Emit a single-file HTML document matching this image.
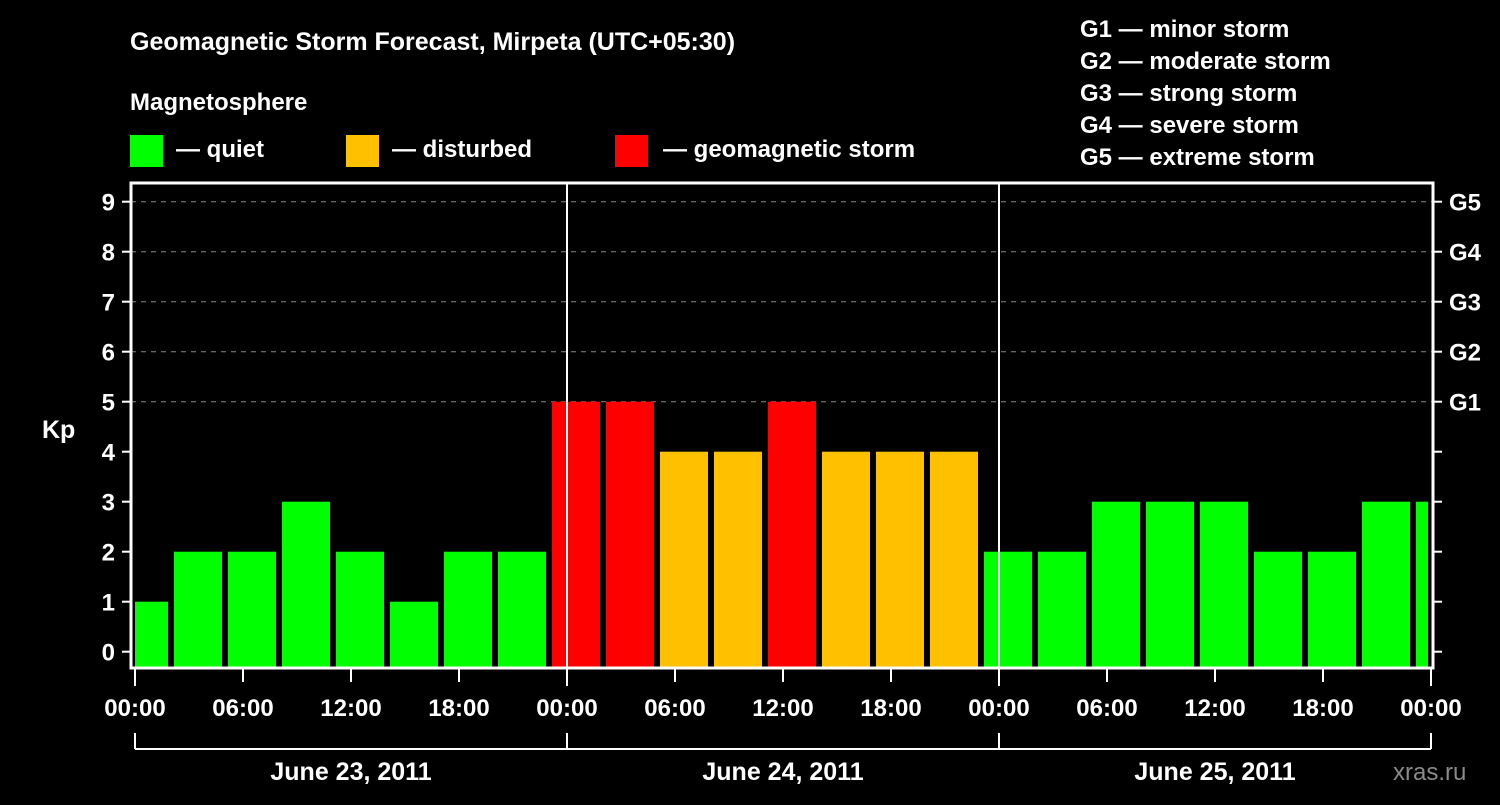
<!DOCTYPE html>
<html><head><meta charset="utf-8"><style>
body{margin:0;background:#000;width:1500px;height:800px;overflow:hidden}
svg text{font-family:"Liberation Sans",Arial,sans-serif;font-weight:bold;fill:#fff}
</style></head><body>
<svg id="c" width="1500" height="800">
<rect width="1500" height="800" fill="#000"/>
<text x="130" y="50" font-size="25">Geomagnetic Storm Forecast, Mirpeta (UTC+05:30)</text>
<text x="130" y="110" font-size="24">Magnetosphere</text>
<g><rect x="130" y="135" width="33" height="32" fill="#00ff00"/><text x="176" y="157" font-size="24">— quiet</text></g>
<g><rect x="346" y="135" width="33" height="32" fill="#ffc000"/><text x="392" y="157" font-size="24">— disturbed</text></g>
<g><rect x="615" y="135" width="33" height="32" fill="#ff0000"/><text x="663" y="157" font-size="24">— geomagnetic storm</text></g>
<g font-size="24">
<text x="1080" y="37">G1 — minor storm</text>
<text x="1080" y="69">G2 — moderate storm</text>
<text x="1080" y="101">G3 — strong storm</text>
<text x="1080" y="133">G4 — severe storm</text>
<text x="1080" y="165">G5 — extreme storm</text>
</g>
<text x="42" y="438" font-size="25">Kp</text>
<text x="1393" y="780" font-size="24" fill="#888" style="fill:#8a8a8a;font-weight:normal">xras.ru</text>
<g id="grid"></g><g id="bars"></g><g id="axes"></g>
</svg>
<script>
const kpValues=[1,2,2,3,2,1,2,2,5,5,4,4,5,4,4,4,2,2,3,3,3,2,2,3,3];
const yTicks=[0,1,2,3,4,5,6,7,8,9];
const gLabels=["G1","G2","G3","G4","G5"];
const gLevels=[5,6,7,8,9];
const dayLabels=["June 23, 2011","June 24, 2011","June 25, 2011"];
const hourLabels=["00:00","06:00","12:00","18:00"];
const NS="http://www.w3.org/2000/svg";
const L=131,R=1433,T=183,B=668,X0=135,PXH=18;
const y=v=>651.7-v*50;
const x=h=>X0+h*PXH;
function mk(tag,a,p){const e=document.createElementNS(NS,tag);for(const k in a)e.setAttribute(k,a[k]);p.appendChild(e);return e;}
const grid=document.getElementById('grid'),bars=document.getElementById('bars'),axes=document.getElementById('axes');
yTicks.forEach(v=>{if(v>=5){const l=mk('line',{x1:L,x2:R,y1:y(v),y2:y(v),stroke:'#888','stroke-dasharray':'5,5','stroke-width':1},grid);

}
const t=mk('line',{x1:122,x2:L,y1:y(v),y2:y(v),stroke:'#fff','stroke-width':2},axes);


const rt=mk('line',{x1:R,x2:1442,y1:y(v),y2:y(v),stroke:'#fff','stroke-width':2},axes);


const tx=mk('text',{x:115,y:y(v)+9,'font-size':24,'text-anchor':'end'},axes);tx.textContent=v;

});
gLabels.forEach((g,i)=>{const t=mk('text',{x:1449,y:y(gLevels[i])+9,'font-size':24},axes);t.textContent=g;

});
kpValues.forEach((v,i)=>{let x1=x(-1+3*i)+3,x2=x(2+3*i)-3;x1=Math.max(x1,X0);x2=Math.min(x2,1428);
const c=v>=5?'#ff0000':v>=4?'#ffc000':'#00ff00';
const r=mk('rect',{x:x1,y:y(v),width:x2-x1,height:B-y(v),fill:c},bars);

});
[1,2].forEach(d=>{const l=mk('line',{x1:x(24*d),x2:x(24*d),y1:T,y2:B,stroke:'#fff','stroke-width':2},axes);

});
const f=mk('rect',{x:L,y:T,width:R-L,height:B-T,fill:'none',stroke:'#fff','stroke-width':3},axes);


for(let h=0;h<=72;h+=6){const t=mk('line',{x1:x(h),x2:x(h),y1:B,y2:h%24==0?686:682,stroke:'#fff','stroke-width':2},axes);


const tx=mk('text',{x:x(h),y:716,'font-size':24,'text-anchor':'middle'},axes);tx.textContent=h==72?hourLabels[0]:hourLabels[(h%24)/6];

}
const br=mk('line',{x1:x(0),x2:x(72),y1:749,y2:749,stroke:'#fff','stroke-width':2},axes);


for(let d=0;d<=3;d++){const t=mk('line',{x1:x(24*d),x2:x(24*d),y1:733,y2:749,stroke:'#fff','stroke-width':2},axes);

}
dayLabels.forEach((dl,d)=>{const t=mk('text',{x:x(24*d+12),y:780,'font-size':25,'text-anchor':'middle'},axes);t.textContent=dl;

});
</script>
</body></html>
